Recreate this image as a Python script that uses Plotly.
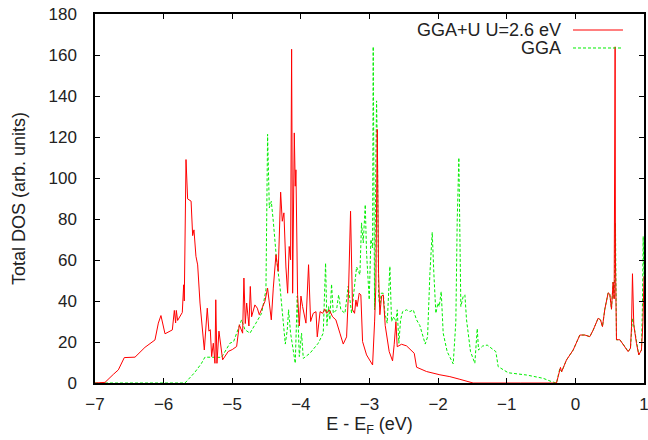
import plotly.graph_objects as go

# GGA+U (U=2.6 eV) total DOS
red_E = [-7.0, -6.87, -6.854, -6.733, -6.66, -6.573, -6.417, -6.272, -6.126, -6.077, -6.039, -5.98,
         -5.873, -5.844, -5.825, -5.815, -5.796, -5.728, -5.708, -5.699, -5.674, -5.65, -5.60,
         -5.577, -5.558, -5.529, -5.504, -5.47, -5.407, -5.364, -5.34, -5.32, -5.30, -5.276,
         -5.252, -5.24, -5.223, -5.194, -5.165, -5.14, -5.058, -5.0, -4.936, -4.897, -4.849,
         -4.83, -4.81, -4.79, -4.77, -4.757, -4.737, -4.718, -4.67, -4.635, -4.606, -4.572,
         -4.524, -4.485, -4.46, -4.431, -4.402, -4.363, -4.33, -4.295, -4.271, -4.247, -4.218,
         -4.193, -4.17, -4.15, -4.135, -4.12, -4.096, -4.082, -4.072, -4.048, -4.023, -3.999,
         -3.975, -3.926, -3.888, -3.858, -3.82, -3.78, -3.761, -3.742, -3.72, -3.684, -3.65,
         -3.625, -3.586, -3.538, -3.49, -3.431, -3.383, -3.334, -3.305, -3.276, -3.247, -3.218,
         -3.198, -3.18, -3.15, -3.126, -3.101, -3.043, -2.955, -2.926, -2.907, -2.887, -2.868,
         -2.849, -2.824, -2.8, -2.771, -2.713, -2.664, -2.64, -2.615, -2.596, -2.533, -2.46,
         -2.387, -2.348, -2.314, -2.169, -1.974, -1.829, -1.683, -1.537, -1.49, -0.8, -0.275,
         -0.217, -0.2, -0.13, -0.032, 0.065, 0.138, 0.21, 0.259, 0.332, 0.366, 0.395, 0.429,
         0.478, 0.502, 0.526, 0.55, 0.565, 0.579, 0.584, 0.599, 0.648, 0.72, 0.769, 0.803,
         0.818, 0.832, 0.851, 0.89, 0.924, 0.963, 0.985, 1.0]
red_dos = [0, 0, 0.3, 4.2, 6.4, 12.4, 12.6, 17.4, 21, 29.2, 32.9, 24,
           25.9, 35.4, 29.3, 35.4, 30.5, 34.4, 47.9, 40, 109, 89.8, 88.7,
           71.9, 74.7, 61.8, 57.6, 39, 16.1, 36.5, 25.3, 26, 12.9, 19.4,
           9.6, 40.6, 9.6, 25.3, 18, 11.3, 15.4, 16.3, 17.8, 28.4, 24.3,
           51.2, 29, 39, 32.3, 27.8, 47.1, 32.3, 38.1, 36.5, 33.3, 35.7,
           39.8, 46.3, 37.3, 30.8, 46.3, 62.6, 54.5, 93.1, 78.9, 83, 56.6,
           43.8, 66.6, 60.1, 162.8, 43.8, 122, 96, 104, 43, 27.8, 42.4,
           37.3, 29.2, 57.7, 30, 34, 34.8, 22.5, 29.2, 34.8, 34, 36,
           34, 35.7, 32.3, 30.8, 24.3, 19, 22.5, 45.4, 83.8, 35.7, 34,
           40.5, 37.3, 43.8, 43, 20.2, 13.7, 8.8, 29.8, 47, 123.7, 53.6,
           33.3, 42.4, 43, 28, 15.3, 10.8, 18.9, 29.8, 17.7, 18.9, 18.1,
           16, 14.5, 7.7, 5.6, 4, 3.1, 1.8, 0.6, 0, 0, 0,
           7.6, 5.5, 11.2, 16.1, 23.4, 23.4, 22.6, 25.8, 31.6, 30.8, 27.5, 36,
           44, 43.3, 36, 49.2, 41, 164, 60, 21.1, 21.1, 17.8, 15.3, 17,
           27.5, 53.3, 28.4, 19.4, 13.7, 16.1, 30, 52]

# GGA total DOS
green_E = [-7.0, -5.689, -5.55, -5.45, -5.398, -5.228, -5.155, -5.034, -4.98, -4.936, -4.864,
           -4.815, -4.742, -4.655, -4.572, -4.509, -4.485, -4.46, -4.431, -4.402, -4.383, -4.354,
           -4.305, -4.257, -4.227, -4.198, -4.179, -4.15, -4.111, -4.082, -4.053, -4.023, -3.99,
           -3.965, -3.868, -3.747, -3.674, -3.64, -3.62, -3.596, -3.577, -3.553, -3.528, -3.48,
           -3.45, -3.417, -3.358, -3.31, -3.261, -3.227, -3.188, -3.14, -3.116, -3.091, -3.062,
           -3.043, -3.004, -2.98, -2.955, -2.946, -2.926, -2.907, -2.897, -2.883, -2.868, -2.849,
           -2.829, -2.8, -2.776, -2.742, -2.703, -2.679, -2.654, -2.615, -2.596, -2.572, -2.547,
           -2.518, -2.46, -2.412, -2.363, -2.314, -2.266, -2.188, -2.154, -2.12, -2.086, -2.062,
           -2.033, -2.003, -1.984, -1.955, -1.926, -1.868, -1.78, -1.742, -1.722, -1.698, -1.669,
           -1.635, -1.61, -1.586, -1.528, -1.465, -1.43, -1.411, -1.353, -1.285, -1.217, -1.159,
           -1.125, -1.052, -0.979, -0.712, -0.47, -0.35, -0.275, -0.227, -0.2, -0.13, -0.032,
           0.065, 0.138, 0.21, 0.259, 0.332, 0.366, 0.395, 0.429, 0.478, 0.502, 0.526, 0.55,
           0.565, 0.584, 0.599, 0.648, 0.72, 0.769, 0.803, 0.818, 0.832, 0.851, 0.89, 0.924,
           0.963, 0.978, 0.988, 1.0]
green_dos = [0, 0, 5, 9.5, 12.6, 12.6, 12.5, 19.4, 20.2, 24.3, 30.8,
             26, 24.3, 29.2, 34, 45.4, 121.3, 85.4, 88.6, 78.9, 70.7, 60,
             47.2, 28, 19, 26, 35.7, 24.3, 16.1, 9.6, 42.4, 12.9, 24.3,
             12, 14.5, 19.4, 24.3, 58.5, 28, 37.3, 30.8, 48.2, 34, 35.7,
             43, 35.7, 34, 47.2, 34, 43.8, 56.6, 52.8, 78.1, 68.3, 87,
             63.6, 40.6, 70, 65.9, 164.1, 35.7, 109, 137.6, 109, 42.2, 37.3,
             43.8, 43.8, 34, 29.2, 56.9, 30, 32.3, 30, 35.7, 19.4, 30.8,
             34.8, 35.7, 34.8, 35.7, 30.8, 28, 19, 22.5, 53.4, 73.5, 53.4,
             34, 39, 37.3, 44.6, 24.3, 15.3, 9.3, 29.8, 79, 109.9, 37.3,
             42.2, 43, 30.8, 15.3, 9.6, 26.5, 16.1, 18, 18.5, 17, 15.3,
             8, 6.5, 5, 3.9, 2.3, 0.7, 0, 7, 5.5, 11.2, 16.1,
             23.4, 23.4, 22.6, 25.8, 31.6, 30.8, 27.5, 36, 44, 43.3, 36, 49.2,
             41, 78, 21.1, 21.1, 17.8, 15.3, 17, 27.5, 31.6, 28.4, 19.4, 13.7,
             16.1, 38.9, 71.5, 50]

x_ticks = [-7, -6, -5, -4, -3, -2, -1, 0, 1]
y_ticks = [0, 20, 40, 60, 80, 100, 120, 140, 160, 180]
legend_labels = ["GGA+U U=2.6 eV", "GGA"]

RED = "#ff0000"
GREEN = "#00ee00"
FONT = "Liberation Sans, Arial, Helvetica, sans-serif"
TXT = "#222222"

fig = go.Figure()
fig.add_trace(go.Scatter(x=green_E, y=green_dos, mode="lines", name=legend_labels[1],
                         line=dict(color=GREEN, width=1, dash="3px,2px"), showlegend=False))
fig.add_trace(go.Scatter(x=red_E, y=red_dos, mode="lines", name=legend_labels[0],
                         line=dict(color=RED, width=1), showlegend=False))

# key drawn gnuplot-style (text left of the sample line)
rows = [(0.9566, RED, "solid"), (0.9079, GREEN, "3px,2px")]
for label, (yp, col, dash) in zip(legend_labels, rows):
    fig.add_annotation(x=0.8525, y=yp, xref="paper", yref="paper", text=label,
                       xanchor="right", yanchor="middle", showarrow=False,
                       font=dict(family=FONT, size=18, color=TXT))
    fig.add_shape(type="line", xref="paper", yref="paper", x0=0.8707, x1=0.9617,
                  y0=yp, y1=yp, line=dict(color=col, width=1, dash=dash))

axis_common = dict(showline=True, linecolor="black", linewidth=1.5, mirror="ticks",
                   ticks="inside", ticklen=5, tickwidth=1, tickcolor="black",
                   showgrid=False, zeroline=False, automargin=False,
                   ticklabeloverflow="allow",
                   tickfont=dict(family=FONT, size=17, color=TXT))

fig.update_layout(
    width=648, height=440,
    margin=dict(l=95, r=4, t=14, b=57),
    paper_bgcolor="white", plot_bgcolor="white",
    xaxis=dict(range=[-7, 1], tickvals=x_ticks, ticklabelstandoff=5,
               title=dict(text="E - E<sub>F</sub> (eV)", standoff=4,
                          font=dict(family=FONT, size=18, color=TXT)),
               **axis_common),
    yaxis=dict(range=[0, 180], tickvals=y_ticks, ticklabelstandoff=13,
               title=dict(text="Total DOS (arb. units)", standoff=18,
                          font=dict(family=FONT, size=18, color=TXT)),
               **axis_common),
)

fig.write_html("out.html", config={"displayModeBar": False},
               post_script="document.body.style.margin='0';")
